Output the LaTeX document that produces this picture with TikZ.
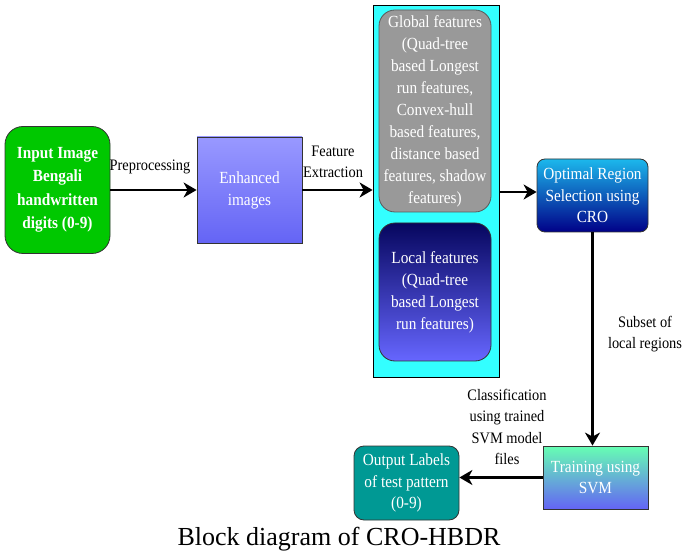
\documentclass[tikz,border=0pt]{standalone}
\usepackage{fontspec}
\setmainfont{Liberation Serif}
\newfontfamily\dfont{Liberation Serif}[FakeStretch=0.9]
\usetikzlibrary{arrows.meta}
\definecolor{cgreen}{HTML}{00C800}
\definecolor{cenhT}{HTML}{9999FF}
\definecolor{cenhB}{HTML}{6464F5}
\definecolor{ccyan}{HTML}{33FFFF}
\definecolor{cgray}{HTML}{999999}
\definecolor{clocT}{HTML}{06065E}
\definecolor{clocB}{HTML}{6666FF}
\definecolor{coptT}{HTML}{1CB8EC}
\definecolor{coptB}{HTML}{000088}
\definecolor{ctrnT}{HTML}{66FFB3}
\definecolor{ctrnB}{HTML}{6464F5}
\definecolor{cteal}{HTML}{009994}
\begin{document}
\begin{tikzpicture}[x=1pt,y=-1pt,
  box/.style={draw=black!80, line width=0.8pt, text=white, align=center, inner sep=0pt,
    font=\dfont\fontsize{17}{22}\selectfont},
  arr/.style={line width=2.3pt, -{Stealth[length=13pt,width=15pt,inset=4pt]}},
  lbl/.style={align=center, inner sep=0pt, font=\dfont\fontsize{16}{21.5}\selectfont}]
\useasboundingbox (0,0) rectangle (683,553);
\node[box, rounded corners=18pt, fill=cgreen, minimum width=105pt, minimum height=127pt,
  font=\dfont\bfseries\fontsize{17}{23.5}\selectfont] (in) at (57.5,190) {Input Image\\Bengali\\handwritten\\digits (0-9)};
\node[box, top color=cenhT, bottom color=cenhB, minimum width=105pt, minimum height=106pt] (enh) at (249.5,190) {Enhanced\\images};
\node[draw=black, line width=0.8pt, fill=ccyan, minimum width=126pt, minimum height=372pt, inner sep=0pt] (cont) at (436,191) {};
\node[box, draw=black!65, rounded corners=16pt, fill=cgray, minimum width=112pt, minimum height=202pt] (glob) at (435,111)
  {Global features\\(Quad-tree\\based Longest\\run features,\\Convex-hull\\based features,\\distance based\\features, shadow\\features)};
\node[box, rounded corners=16pt, top color=clocT, bottom color=clocB, minimum width=112pt, minimum height=138pt] (loc) at (435,292)
  {Local features\\(Quad-tree\\based Longest\\run features)};
\node[box, rounded corners=8pt, top color=coptT, bottom color=coptB, minimum width=111pt, minimum height=73pt,
  font=\dfont\fontsize{17}{21.5}\selectfont] (opt) at (592.5,195.5) {Optimal Region\\Selection using\\CRO};
\node[box, top color=ctrnT, bottom color=ctrnB, minimum width=105pt, minimum height=63pt,
  font=\dfont\fontsize{17}{21.5}\selectfont] (trn) at (595.5,477.5) {Training using\\SVM};
\node[box, rounded corners=10pt, fill=cteal, minimum width=105pt, minimum height=74pt,
  font=\dfont\fontsize{17}{21.5}\selectfont] (out) at (406.5,483) {Output Labels\\of test pattern\\(0-9)};
\draw[arr] (in.east) -- (enh.west);
\draw[arr] (enh.east) -- (enh.east -| cont.west);
\coordinate (a3) at ([yshift=3.5pt]opt.west);
\draw[arr] (cont.east |- a3) -- (a3);
\draw[arr] (opt.south) -- (opt.south |- trn.north);
\draw[arr] (trn.west) -- (trn.west -| out.east);
\node[lbl] (l1) at (150,167) {Preprocessing};
\node[lbl] (l2) at (333,162) {Feature\\Extraction};
\node[lbl] (l3) at (645,334) {Subset of\\local regions};
\node[lbl] (l4) at (507,427) {Classification\\using trained\\SVM model\\files};
\node[anchor=base, inner sep=0pt, font=\fontsize{26}{30}\selectfont] (cap) at (339,545) {Block diagram of CRO-HBDR};
\end{tikzpicture}
\end{document}
